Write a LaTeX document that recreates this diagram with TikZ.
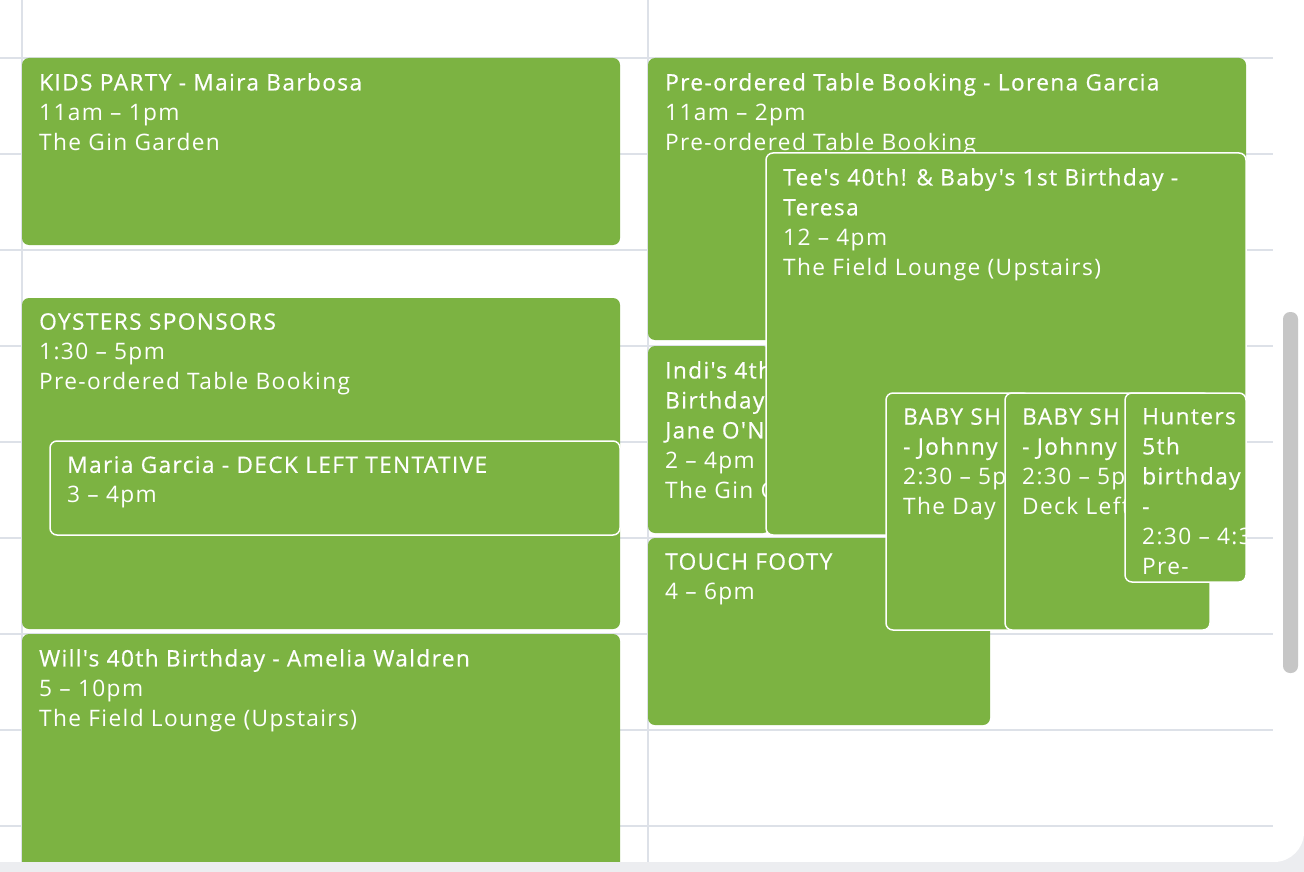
\documentclass[tikz,border=0pt]{standalone}
\usepackage{fontspec}
\setmainfont{Open Sans}[LetterSpace=6]
\newfontfamily\evtitlefont{Open Sans}[LetterSpace=6, FakeBold=0.5]
\usetikzlibrary{positioning}

\definecolor{pistachio}{HTML}{7CB342}
\definecolor{gridgray}{HTML}{DDE1E8}
\definecolor{bargray}{HTML}{C6C6C6}
\definecolor{pagegray}{HTML}{ECEDF0}

\newcommand{\evtitle}[1]{{\evtitlefont #1}}
\newcommand{\calevent}[7]{%
    \fill[event_fill] (#2,#3) rectangle (#4,#5);
    \begin{scope}
        \clip[rounded corners=7pt] (#2,#3) rectangle (#4,#5);
        \node[event_text] (#1) at (#2,#3) {#7};
    \end{scope}
    \path[rounded corners=7pt, #6] (#2,#3) rectangle (#4,#5);
}

\begin{document}
\begin{tikzpicture}
    [
        x=1pt, y=-1pt,
        event_fill/.style={fill=pistachio, rounded corners=7pt},
        event_text/.style={anchor=north west, inner sep=0pt, xshift=17pt, yshift=-15pt, align=left, text=white, font=\fontsize{22.7}{30}\selectfont, execute at begin node={\rule{0pt}{22pt}}},
        edged/.style={draw=white, line width=1.5pt},
        grid_line/.style={draw=gridgray, line width=1.5pt},
    ]
        \useasboundingbox (0,0) rectangle (1304,872);
        \fill[pagegray] (0,0) rectangle (1304,872);
        \fill[white, rounded corners=30pt] (-40,-40) rectangle (1304,862);
        % hour lines and day columns
        \foreach \y in {58,154,...,826}
            \draw[grid_line] (0,\y) -- (1273,\y);
        \draw[grid_line] (22,0) -- (22,862);
        \draw[grid_line] (648,0) -- (648,862);
        % left day
        \calevent{kids}{22}{58}{620}{245}{}{\evtitle{KIDS PARTY - Maira Barbosa}\\11am – 1pm\\The Gin Garden}
        \calevent{oysters}{22}{298}{620}{629}{}{\evtitle{OYSTERS SPONSORS}\\1:30 – 5pm\\Pre-ordered Table Booking}
        \calevent{maria}{50}{441}{620}{535}{edged}{\evtitle{Maria Garcia - DECK LEFT TENTATIVE}\\3 – 4pm}
        \calevent{wills}{22}{634}{620}{900}{}{\evtitle{Will's 40th Birthday - Amelia Waldren}\\5 – 10pm\\The Field Lounge (Upstairs)}
        % right day
        \calevent{preorder}{648}{58}{1246}{340}{}{\evtitle{Pre-ordered Table Booking - Lorena Garcia}\\11am – 2pm\\Pre-ordered Table Booking}
        \calevent{indi}{648}{346}{770}{533}{}{\evtitle{Indi's 4th}\\\evtitle{Birthday}\\\evtitle{Jane O'N}\\2 – 4pm\\The Gin Garden}
        \calevent{tees}{766}{153}{1246}{535}{edged}{\evtitle{Tee's 40th! \& Baby's 1st Birthday -}\\\evtitle{Teresa}\\12 – 4pm\\The Field Lounge (Upstairs)}
        \calevent{touch}{648}{538}{990}{725}{}{\evtitle{TOUCH FOOTY}\\4 – 6pm}
        \calevent{babyA}{886}{393}{1030}{630}{edged}{\evtitle{BABY SH}\\\evtitle{- Johnny}\\2:30 – 5p\\The Day}
        \calevent{babyB}{1005}{393}{1210}{630}{edged}{\evtitle{BABY SH}\\\evtitle{- Johnny}\\2:30 – 5p\\Deck Left}
        \calevent{hunters}{1125}{393}{1246}{582}{edged}{\evtitle{Hunters}\\\evtitle{5th}\\\evtitle{birthday}\\\evtitle{-}\\2:30 – 4:30pm\\Pre-}
        % bottom edge and scroll bar
        \fill[pagegray] (0,862) rectangle (1304,872);
        \fill[bargray, rounded corners=7pt] (1283,312) rectangle (1298,673);
    \end{tikzpicture}
\end{document}
